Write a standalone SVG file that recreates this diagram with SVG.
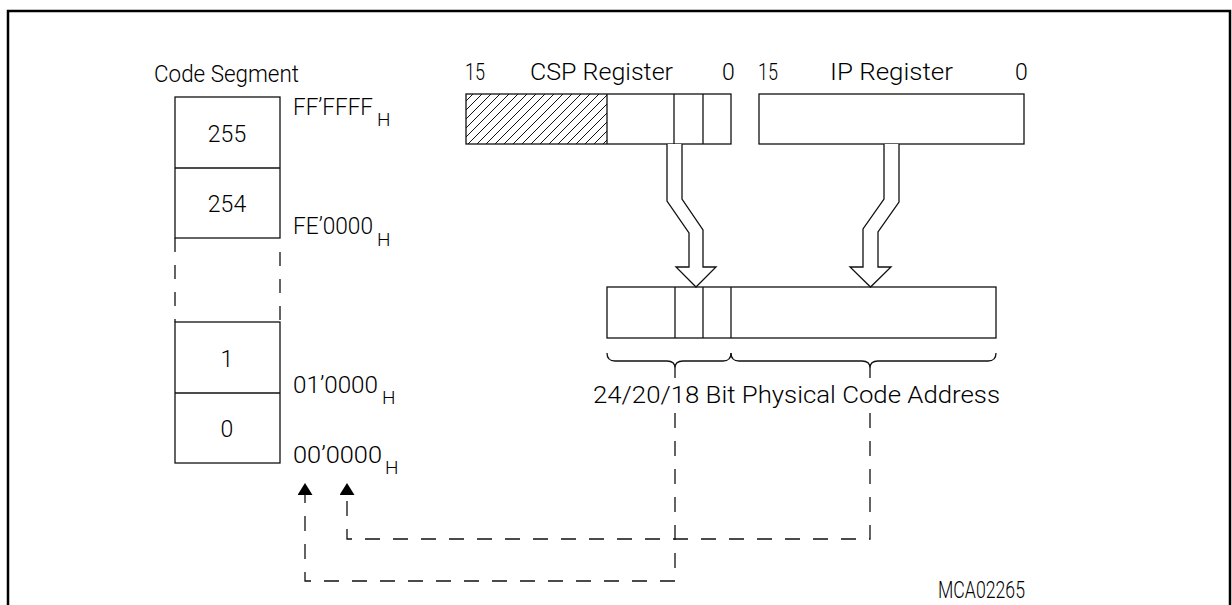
<svg xmlns="http://www.w3.org/2000/svg" width="1232" height="605" viewBox="0 0 1232 605">
<style>
.ln{fill:none;stroke:#111;stroke-width:1.3}
.box{fill:#fff;stroke:#111;stroke-width:1.3}
.dash{fill:none;stroke:#111;stroke-width:1.3;stroke-dasharray:15 13}
.t{font-family:Roboto,"Liberation Sans",Arial,sans-serif;font-weight:300;fill:#000;font-size:23px}
.sub{font-size:19px}
.num{text-anchor:middle}
</style>
<defs>
<pattern id="hatch" patternUnits="userSpaceOnUse" width="9" height="9">
<path d="M0,9 L9,0 M-2,2 L2,-2 M7,11 L11,7" stroke="#111" stroke-width="1"/>
</pattern>
<marker id="ah" viewBox="0 0 12 15" refX="0" refY="7.5" markerWidth="12" markerHeight="15" markerUnits="userSpaceOnUse" orient="auto">
<path d="M0,0 L12,7.5 L0,15 Z" fill="#000"/>
</marker>
</defs>
<rect width="1232" height="605" fill="#fff"/>
<path d="M8,605 V11 H1230 V605" fill="none" stroke="#000" stroke-width="2.5"/>

<g id="code-segment">
<text class="t" x="154" y="82" textLength="145" lengthAdjust="spacingAndGlyphs" font-size="25">Code Segment</text>
<rect class="box" x="175" y="97" width="105" height="141"/>
<line class="ln" x1="175" y1="168" x2="280" y2="168"/>
<line class="dash" x1="175" y1="238" x2="175" y2="322" style="stroke-dasharray:14 13"/>
<line class="dash" x1="280" y1="252" x2="280" y2="322" style="stroke-dasharray:14 13"/>
<rect class="box" x="175" y="322" width="105" height="141"/>
<line class="ln" x1="175" y1="393" x2="280" y2="393"/>
<text class="t num" x="227" y="142">255</text>
<text class="t num" x="227" y="212">254</text>
<text class="t num" x="227" y="367">1</text>
<text class="t num" x="227" y="437">0</text>
<text class="t" x="293" y="115" textLength="80" lengthAdjust="spacingAndGlyphs">FF’FFFF</text>
<text class="t sub" x="377" y="126">H</text>
<text class="t" x="293" y="234" textLength="80" lengthAdjust="spacingAndGlyphs">FE’0000</text>
<text class="t sub" x="377" y="246">H</text>
<text class="t" x="293" y="393" textLength="85" lengthAdjust="spacingAndGlyphs">01’0000</text>
<text class="t sub" x="382" y="404">H</text>
<text class="t" x="293" y="463" textLength="89" lengthAdjust="spacingAndGlyphs">00’0000</text>
<text class="t sub" x="385" y="474">H</text>
</g>

<g id="csp-register">
<text class="t" x="465" y="80" textLength="20" lengthAdjust="spacingAndGlyphs">15</text>
<text class="t" x="530" y="80" textLength="143" lengthAdjust="spacingAndGlyphs">CSP Register</text>
<text class="t" x="722" y="80">0</text>
<rect x="466" y="94" width="141" height="50" fill="url(#hatch)"/>
<rect class="ln" x="466" y="94" width="265" height="50"/>
<line class="ln" x1="607" y1="94" x2="607" y2="144"/>
<line class="ln" x1="674" y1="94" x2="674" y2="144"/>
<line class="ln" x1="703" y1="94" x2="703" y2="144"/>
</g>

<g id="ip-register">
<text class="t" x="758" y="80" textLength="20" lengthAdjust="spacingAndGlyphs">15</text>
<text class="t" x="830" y="80" textLength="123" lengthAdjust="spacingAndGlyphs">IP Register</text>
<text class="t" x="1015" y="80">0</text>
<rect class="box" x="759" y="94" width="265" height="50"/>
</g>

<g id="physical-address">
<rect class="box" x="607" y="287" width="389" height="51"/>
<line class="ln" x1="675" y1="287" x2="675" y2="338"/>
<line class="ln" x1="703" y1="287" x2="703" y2="338"/>
<line class="ln" x1="731" y1="287" x2="731" y2="338"/>
<path class="ln" d="M607,353 Q607,361 615,361 H667 Q675,361 675,368 Q675,361 683,361 H723 Q731,361 731,353"/>
<path class="ln" d="M731,353 Q731,361 739,361 H862 Q870,361 870,368 Q870,361 878,361 H988 Q996,361 996,353"/>
<line class="ln" x1="675" y1="368" x2="675" y2="378"/>
<line class="ln" x1="870" y1="368" x2="870" y2="378"/>
<text class="t" x="593" y="403" font-size="25" textLength="407" lengthAdjust="spacingAndGlyphs">24/20/18 Bit Physical Code Address</text>
</g>

<g id="connectors">
<path class="box" d="M667,144 V201 L689,233 V267 H676 L696,287 L716,267 H703 V230 L682,199 V144"/>
<path class="box" d="M884,144 V199 L863,229 V267 H850 L870.5,287 L891,267 H878 V232 L899,202 V144"/>
<path class="dash" d="M870,413 V539 H347 V495" marker-end="url(#ah)"/>
<path class="dash" d="M675,413 V581 H305 V495" marker-end="url(#ah)"/>
</g>

<text class="t" x="938" y="598" font-size="16" textLength="87" lengthAdjust="spacingAndGlyphs">MCA02265</text>
</svg>
